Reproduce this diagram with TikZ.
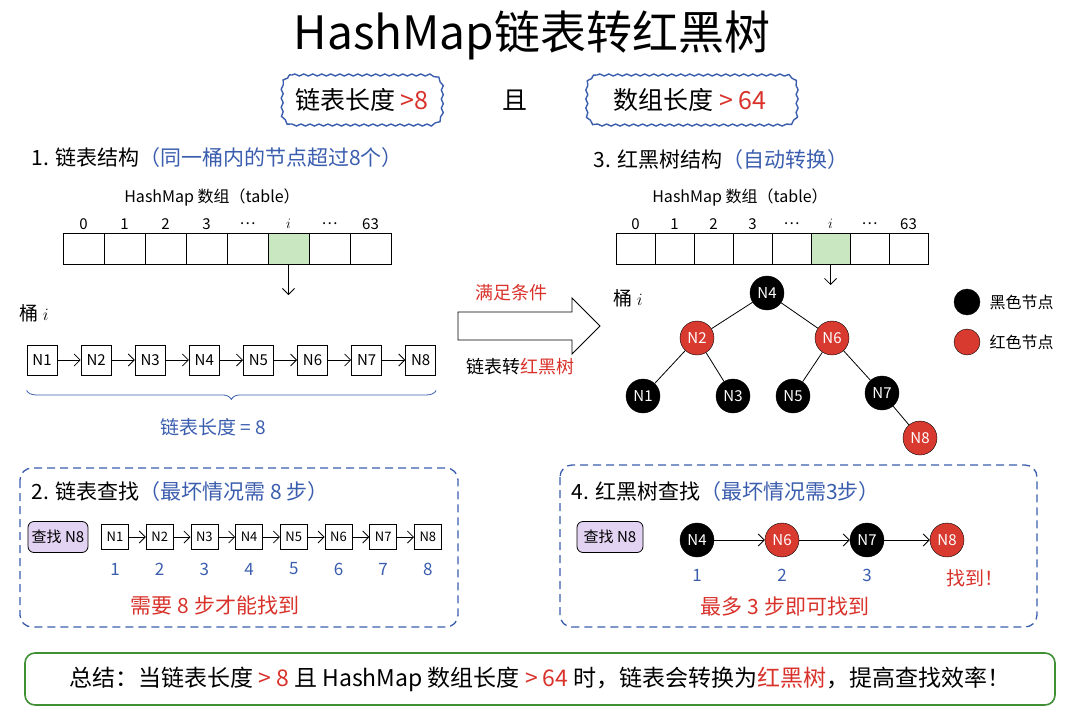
\documentclass[tikz,border=0pt]{standalone}
\usepackage{fontspec}
\setmainfont{Noto Sans CJK SC}
\usepackage{tikz}
\usetikzlibrary{arrows.meta,positioning,decorations.pathreplacing,decorations.pathmorphing}
\definecolor{inkblue}{HTML}{3A5DAE}
\definecolor{inkred}{HTML}{D8322B}
\definecolor{cellgreen}{HTML}{C9E8C2}
\definecolor{boxgreen}{HTML}{3F8F35}
\definecolor{lilac}{HTML}{E2D3F2}
\definecolor{treered}{HTML}{D93A30}
\newcommand{\pxfont}[1]{\fontsize{#1}{#1}\selectfont}

\begin{document}
\begin{tikzpicture}[x=1pt,y=1pt,
		cell/.style={draw,thick,minimum width=41pt,minimum height=31pt,inner sep=0pt},
		idx/.style={font=\pxfont{15}},
		listnode/.style={draw,thick,fill=white,minimum size=30pt,inner sep=0pt,font=\pxfont{15}},
		stepnode/.style={draw,thick,fill=white,minimum width=27pt,minimum height=25pt,inner sep=0pt,font=\pxfont{13}},
		blacknode/.style={circle,draw=black,fill=black,text=white,minimum size=34pt,inner sep=0pt,font=\pxfont{15}},
		rednode/.style={circle,draw=black,fill=treered,text=white,minimum size=34pt,inner sep=0pt,font=\pxfont{15}},
		link/.style={draw,thick,-{Straight Barb[length=6pt]}},
		treeline/.style={draw,thick},
		heading/.style={anchor=west,font=\pxfont{21}},
		sketchline/.style={draw=inkblue,line width=1.4pt,decorate,decoration={snake,amplitude=1pt,segment length=9pt}},
		searchbox/.style={draw=inkblue,line width=1.3pt,dash pattern=on 8pt off 5pt,rounded corners=12pt},
		findtag/.style={draw,thick,fill=lilac,rounded corners=6pt,minimum height=31pt,font=\pxfont{15}},
		stepnum/.style={text=inkblue,font=\pxfont{17}}
	]
		\useasboundingbox (0,0) rectangle (1080,-720);
		\node (title) at (532,-35) [font=\pxfont{46}] {HashMap链表转红黑树};

		\path [sketchline] (292,-75) -- (428,-75) arc (90:0:12) -- (440,-113) arc (0:-90:12) -- (292,-125) arc (270:180:12) -- (280,-87) arc (180:90:12) -- cycle;
		\node (cond1) at (362,-100) [font=\pxfont{25}] {链表长度 \textcolor{inkred}{>8}};
		\node (and) at (515,-100) [font=\pxfont{25}] {且};
		\path [sketchline] (597,-75) -- (783,-75) arc (90:0:12) -- (795,-113) arc (0:-90:12) -- (597,-125) arc (270:180:12) -- (585,-87) arc (180:90:12) -- cycle;
		\node (cond2) at (690,-100) [font=\pxfont{25}] {数组长度 \textcolor{inkred}{> 64}};

		\node (sec1) at (28,-158) [heading] {1. 链表结构\textcolor{inkblue}{（同一桶内的节点超过8个）}};
		\node (tab1) at (212,-197) [font=\pxfont{16}] {HashMap 数组（table）};
		\foreach \k/\lab/\f in {0/0/white,1/1/white,2/2/white,3/3/white,4/…/white,5/$i$/cellgreen,6/…/white,7/63/white} {
			\node (a\k) at ({83.5+41*\k},-249) [cell,fill=\f] {};
			\node (ai\k) at ({83.5+41*\k},-224) [idx] {\lab};
		}
		\coordinate (down1) at (a5.south |- 0,-295);
		\path [link] (a5.south) -- (down1);
		\node (bkt1) at (16,-313) [anchor=west,font=\pxfont{19}] {桶 $i$};
		\foreach \k in {1,...,8} {
			\node (l\k) at ({42+54.1*(\k-1)},-360) [listnode] {N\k};
		}
		\foreach \a/\b in {1/2,2/3,3/4,4/5,5/6,6/7,7/8} {
			\path [link] (l\a) -- (l\b);
		}
		\path [draw=inkblue,thick,decorate,decoration={brace,mirror,amplitude=9pt}] ([yshift=-15pt]l1.south west) -- ([yshift=-15pt]l8.south east);
		\node (len1) at (213,-427) [text=inkblue,font=\pxfont{19}] {链表长度 = 8};

		\path [draw,thick,fill=white] (458,-312) -- (572,-312) -- (572,-298) -- (600,-326) -- (572,-354) -- (572,-340) -- (458,-340) -- cycle;
		\node (meet) at (511,-293) [text=inkred,font=\pxfont{18}] {满足条件};
		\node (conv) at (520,-367) [font=\pxfont{18}] {链表转\textcolor{inkred}{红黑树}};

		\node (sec3) at (590,-160) [heading] {3. 红黑树结构\textcolor{inkblue}{（自动转换）}};
		\node (tab2) at (740,-197) [font=\pxfont{16}] {HashMap 数组（table）};
		\foreach \k/\lab/\f in {0/0/white,1/1/white,2/2/white,3/3/white,4/…/white,5/$i$/cellgreen,6/…/white,7/63/white} {
			\node (b\k) at ({635.5+39*\k},-249) [cell,minimum width=39pt,fill=\f] {};
			\node (bi\k) at ({635.5+39*\k},-224) [idx] {\lab};
		}
		\coordinate (down2) at (b5.south |- 0,-285);
		\path [link] (b5.south) -- (down2);
		\node (bkt2) at (610,-298) [anchor=west,font=\pxfont{19}] {桶 $i$};

		\node (t4) at (767,-293) [blacknode] {N4};
		\node (t2) at (697,-338) [rednode] {N2};
		\node (t6) at (832,-338) [rednode] {N6};
		\node (t1) at (643,-396) [blacknode] {N1};
		\node (t3) at (733,-396) [blacknode] {N3};
		\node (t5) at (793,-396) [blacknode] {N5};
		\node (t7) at (882,-393) [blacknode] {N7};
		\node (t8) at (920,-438) [rednode] {N8};
		\path [treeline] (t4) -- (t2);
		\path [treeline] (t4) -- (t6);
		\path [treeline] (t2) -- (t1);
		\path [treeline] (t2) -- (t3);
		\path [treeline] (t6) -- (t5);
		\path [treeline] (t6) -- (t7);
		\path [treeline] (t7) -- (t8);

		\node (keyb) at (967,-302) [blacknode,minimum size=26pt] {};
		\node (keybt) [right=6pt of keyb,font=\pxfont{16}] {黑色节点};
		\node (keyr) at (967,-342) [rednode,minimum size=26pt] {};
		\node (keyrt) [right=6pt of keyr,font=\pxfont{16}] {红色节点};

		\path [searchbox] (20,-468) rectangle (458,-627);
		\node (sec2) at (28,-492) [heading] {2. 链表查找\textcolor{inkblue}{（最坏情况需 8 步）}};
		\node (find1) at (58,-537) [findtag,minimum width=60pt] {查找 N8};
		\foreach \k in {1,...,8} {
			\node (s\k) at ({115+44.7*(\k-1)},-537) [stepnode] {N\k};
			\node (sn\k) at ({115+44.7*(\k-1)},-569) [stepnum] {\k};
		}
		\foreach \a/\b in {1/2,2/3,3/4,4/5,5/6,6/7,7/8} {
			\path [link] (s\a) -- (s\b);
		}
		\node (need8) at (215,-605) [text=inkred,font=\pxfont{21}] {需要 8 步才能找到};

		\path [searchbox] (560,-465) rectangle (1037,-627);
		\node (sec4) at (568,-492) [heading] {4. 红黑树查找\textcolor{inkblue}{（最坏情况需3步）}};
		\node (find2) at (610,-537) [findtag,minimum width=66pt] {查找 N8};
		\node (r4) at (697,-540) [blacknode] {N4};
		\node (r6) at (782,-540) [rednode] {N6};
		\node (r7) at (867,-540) [blacknode] {N7};
		\node (r8) at (947,-540) [rednode] {N8};
		\path [link] (r4) -- (r6);
		\path [link] (r6) -- (r7);
		\path [link] (r7) -- (r8);
		\node (rn1) at (697,-575) [stepnum] {1};
		\node (rn2) at (782,-575) [stepnum] {2};
		\node (rn3) at (867,-575) [stepnum] {3};
		\node (found) at (975,-578) [text=inkred,font=\pxfont{19}] {找到！};
		\node (most3) at (785,-607) [text=inkred,font=\pxfont{21}] {最多 3 步即可找到};

		\node (sum) at (540,-679) [draw=boxgreen,line width=1.6pt,rounded corners=10pt,minimum width=1030pt,minimum height=52pt,font=\pxfont{23}] {总结：当链表长度 \textcolor{inkred}{> 8} 且 HashMap 数组长度 \textcolor{inkred}{> 64} 时，链表会转换为\textcolor{inkred}{红黑树}，提高查找效率！};
	\end{tikzpicture}
\end{document}
